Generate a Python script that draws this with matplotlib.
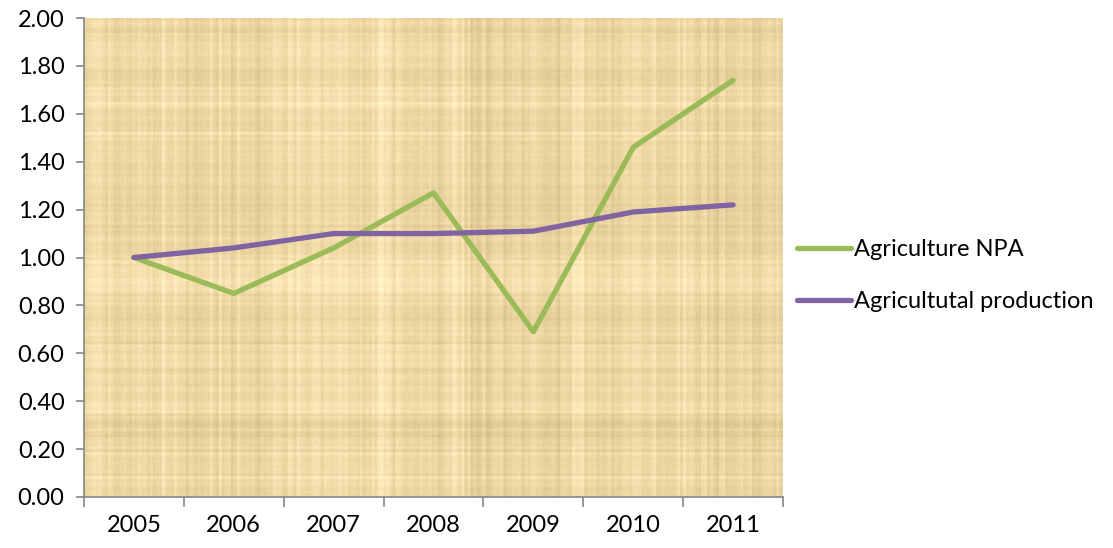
import numpy as np
import matplotlib
matplotlib.use("Agg")
import matplotlib.pyplot as plt
from matplotlib.lines import Line2D

years = ["2005", "2006", "2007", "2008", "2009", "2010", "2011"]
agri_npa = [1.00, 0.85, 1.04, 1.27, 0.69, 1.46, 1.74]
agri_production = [1.00, 1.04, 1.10, 1.10, 1.11, 1.19, 1.22]
yticks = [0.0, 0.2, 0.4, 0.6, 0.8, 1.0, 1.2, 1.4, 1.6, 1.8, 2.0]

GREEN = "#9BBB59"
PURPLE = "#8064A2"
SPINE = "#868686"
FS = 17

plt.rcParams['font.family'] = ['Lato', 'DejaVu Sans']


def smooth(a, k):
    ker = np.ones(k) / k
    return np.convolve(np.pad(a, k, mode="wrap"), ker, mode="same")[k:-k]


def papyrus(h, w, seed=7):
    # streaky parchment fill for the plot area
    rng = np.random.default_rng(seed)
    cols = np.repeat(rng.normal(0, 1, w // 3 + 1), 3)[:w]
    cols_wide = smooth(rng.normal(0, 1, w), 25) * 4
    rows = np.repeat(rng.normal(0, 1, h // 3 + 1), 3)[:h]
    rows_wide = smooth(rng.normal(0, 1, h), 25) * 4
    fine = rng.normal(0, 1, (h, w))
    v = (0.45 * cols[None, :] + 0.4 * cols_wide[None, :]
         + 0.3 * rows[:, None] + 0.3 * rows_wide[:, None] + 0.2 * fine)
    v = (v - v.mean()) / v.std()
    base = np.array([238, 216, 165]) / 255.0
    dark = np.array([-0.05, -0.055, -0.065])
    img = base[None, None, :] + v[:, :, None] * dark[None, None, :] * 0.6
    return np.clip(img, 0, 1)


fig = plt.figure(figsize=(11.13, 5.48), dpi=100)
ax = fig.add_axes([0.0755, 0.0931, 0.628, 0.874])

x = np.arange(len(years)) + 0.5
ax.imshow(papyrus(480, 700), extent=[0, len(years), 0, 2.0], aspect="auto",
          zorder=0, interpolation="bilinear")

ax.plot(x, agri_npa, color=GREEN, lw=3.8, solid_capstyle="round", zorder=3)
ax.plot(x, agri_production, color=PURPLE, lw=3.8, solid_capstyle="round", zorder=3)

ax.set_xlim(0, len(years))
ax.set_ylim(0, 2.0)
ax.set_yticks(yticks)
ax.set_yticklabels([f"{t:.2f}" for t in yticks])
ax.set_xticks(np.arange(len(years) + 1))
ax.set_xticklabels([])
ax.set_xticks(x, minor=True)
ax.set_xticklabels(years, minor=True)

for s in ["top", "right"]:
    ax.spines[s].set_visible(False)
for s in ["left", "bottom"]:
    ax.spines[s].set_color(SPINE)
    ax.spines[s].set_linewidth(1.2)

ax.tick_params(axis="both", which="major", direction="out", length=6,
               color=SPINE, width=1.2, labelsize=FS, labelcolor="black")
ax.tick_params(axis="x", which="major", length=7)
ax.tick_params(axis="x", which="minor", length=0, labelsize=FS, pad=13)
ax.tick_params(axis="y", pad=8)

handles = [Line2D([], [], color=GREEN, lw=3.8, solid_capstyle="round"),
           Line2D([], [], color=PURPLE, lw=3.8, solid_capstyle="round")]
fig.legend(handles, ["Agriculture NPA", "Agricultutal production"],
           loc="center left", bbox_to_anchor=(0.697, 0.497), frameon=False,
           fontsize=FS, handlelength=2.3, handletextpad=0.1, labelspacing=1.3)

fig.savefig("out.png", dpi=100)
